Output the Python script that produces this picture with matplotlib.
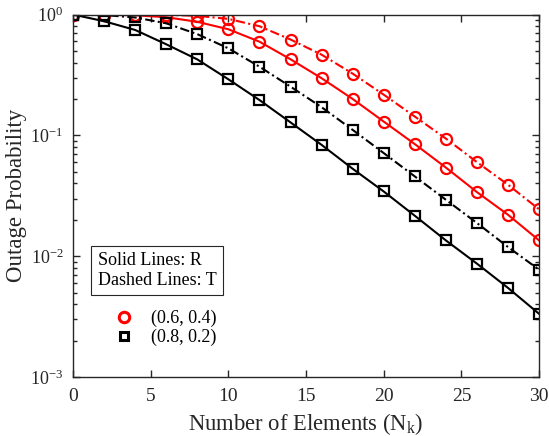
import numpy as np
import matplotlib.pyplot as plt
from matplotlib.lines import Line2D
from matplotlib.ticker import LogLocator, NullFormatter, MultipleLocator

plt.rcParams['font.family'] = ['Liberation Serif', 'DejaVu Serif']
plt.rcParams['mathtext.fontset'] = 'custom'
plt.rcParams['mathtext.rm'] = 'Liberation Serif'

# number of reflecting elements
n_elements = np.arange(0, 31, 2)

# outage probability, (beta_R, beta_T) = (0.6, 0.4)
out_r_06 = [1.0, 0.998, 0.985, 0.95, 0.87, 0.755, 0.596, 0.426, 0.297, 0.200,
            0.130, 0.0846, 0.0541, 0.0339, 0.0220, 0.0135]
out_t_06 = [1.0, 1.0, 0.999, 0.995, 0.975, 0.92, 0.80, 0.621, 0.465, 0.324,
            0.217, 0.143, 0.094, 0.060, 0.039, 0.0244]

# outage probability, (beta_R, beta_T) = (0.8, 0.2)
out_r_08 = [1.0, 0.88, 0.745, 0.567, 0.425, 0.291, 0.196, 0.128, 0.0834, 0.0529,
            0.0343, 0.0216, 0.0135, 0.00867, 0.00546, 0.00333]
out_t_08 = [1.0, 0.99, 0.945, 0.846, 0.688, 0.525, 0.37, 0.253, 0.171, 0.111,
            0.0713, 0.0457, 0.0293, 0.0188, 0.0119, 0.00773]

pair_labels = ['(0.6, 0.4)', '(0.8, 0.2)']
dark = '#262626'

fig = plt.figure(figsize=(5.49, 4.36), dpi=100)
ax = fig.add_axes([0.133, 0.1353, 0.849, 0.8314])

dashdot = (4.5, 1.6, 1, 1.6)
ax.plot(n_elements, out_t_06, color='red', lw=1.5, dashes=dashdot,
        marker='o', ms=8, mfc='none', mew=1.6)
ax.plot(n_elements, out_r_06, color='red', lw=1.5, ls='-',
        marker='o', ms=8, mfc='none', mew=1.6)
ax.plot(n_elements, out_t_08, color='black', lw=1.5, dashes=dashdot,
        marker='s', ms=6.5, mfc='none', mew=1.6)
ax.plot(n_elements, out_r_08, color='black', lw=1.5, ls='-',
        marker='s', ms=6.5, mfc='none', mew=1.6)

ax.set_yscale('log')
ax.set_xlim(0, 30)
ax.set_ylim(1e-3, 1)
ax.xaxis.set_major_locator(MultipleLocator(5))
ax.yaxis.set_major_locator(LogLocator(base=10, numticks=10))
ax.yaxis.set_minor_locator(LogLocator(base=10, subs=np.arange(2, 10), numticks=10))
ax.yaxis.set_minor_formatter(NullFormatter())

ax.tick_params(which='both', direction='in', top=True, right=True,
               colors=dark, width=1.0)
ax.tick_params(which='major', length=5)
ax.tick_params(which='minor', length=3)
ax.tick_params(axis='x', labelsize=14, pad=8)
ax.tick_params(axis='y', labelsize=13, pad=7)
for sp in ax.spines.values():
    sp.set_color(dark)
    sp.set_linewidth(1.0)

ax.set_xlabel(r'Number of Elements (N$_{\mathrm{k}}$)', fontsize=16.3, color=dark, labelpad=4)
ax.set_ylabel('Outage Probability', fontsize=16.5, color=dark, labelpad=2)

# line style note
ax.text(0.053, 0.345, 'Solid Lines: R\nDashed Lines: T', transform=ax.transAxes,
        fontsize=13, color='black', va='top', ha='left', linespacing=1.2,
        bbox=dict(boxstyle='square,pad=0.35', fc='white', ec=dark, lw=0.8))

handles = [Line2D([], [], ls='none', marker='o', ms=7.5, mfc='none', mec='red', mew=2.2),
           Line2D([], [], ls='none', marker='s', ms=6, mfc='none', mec='black', mew=2.2)]
ax.legend(handles, pair_labels, loc='upper left', bbox_to_anchor=(0.07, 0.21),
          frameon=False, fontsize=13, handlelength=1.0, handletextpad=1.0,
          labelspacing=0.1, borderpad=0)

fig.savefig('out.png', dpi=100)
